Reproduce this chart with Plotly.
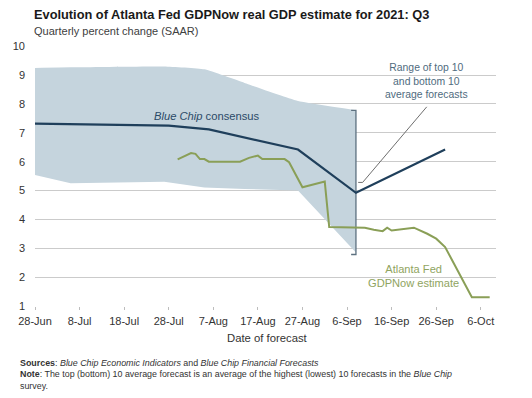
import pandas as pd
import plotly.graph_objects as go

# ---------------- data ----------------
band_dates = ["2021-06-28", "2021-07-06", "2021-07-27", "2021-08-05", "2021-08-14",
              "2021-08-22", "2021-08-26", "2021-09-08"]
band_upper = [9.25, 9.27, 9.30, 9.20, 8.73, 8.30, 8.10, 7.78]
band_lower = [5.54, 5.25, 5.30, 5.10, 5.05, 5.02, 5.00, 2.85]

bc_dates = ["2021-06-28", "2021-07-28", "2021-08-06", "2021-08-26", "2021-09-08", "2021-09-28"]
bc_values = [7.32, 7.25, 7.12, 6.42, 4.92, 6.42]

gdpnow_dates = ["2021-07-30", "2021-08-02", "2021-08-03", "2021-08-04", "2021-08-05",
                "2021-08-06", "2021-08-13", "2021-08-15", "2021-08-17", "2021-08-18",
                "2021-08-23", "2021-08-24", "2021-08-27", "2021-09-01", "2021-09-02",
                "2021-09-10", "2021-09-12", "2021-09-14", "2021-09-15", "2021-09-16",
                "2021-09-21", "2021-09-24", "2021-09-26", "2021-09-28", "2021-09-30",
                "2021-10-04", "2021-10-08"]
gdpnow_values = [6.08, 6.30, 6.27, 6.09, 6.09,
                 6.00, 6.00, 6.13, 6.21, 6.09,
                 6.09, 5.98, 5.11, 5.31, 3.73,
                 3.71, 3.64, 3.59, 3.71, 3.61,
                 3.71, 3.50, 3.33, 3.04, 2.46,
                 1.30, 1.30]

y_ticks = [1, 2, 3, 4, 5, 6, 7, 8, 9, 10]

# annotation pointer (from bracket to "Range" label)
pointer_x = ["2021-09-08 12:00", "2021-09-09 12:00", "2021-09-23 21:00"]
pointer_y = [5.28, 5.28, 7.90]

FONT = "Liberation Sans, Arial, sans-serif"
BAND = "#c5d4dd"
NAVY = "#1f3f5b"
GREEN = "#8a9f57"
GRID = "#cbcbcb"

fig = go.Figure()

# band
fig.add_trace(go.Scatter(x=band_dates, y=band_upper, mode="lines",
                         line=dict(color=BAND, width=0, shape="spline", smoothing=0.4),
                         hoverinfo="skip", showlegend=False))
fig.add_trace(go.Scatter(x=band_dates, y=band_lower, mode="lines", fill="tonexty",
                         fillcolor=BAND, line=dict(color=BAND, width=0),
                         hoverinfo="skip", showlegend=False))

# bracket at band end
end = pd.Timestamp(band_dates[-1])
tick = pd.Timedelta(hours=26)
fig.add_trace(go.Scatter(
    x=[end - tick, end, end, end - tick],
    y=[band_upper[-1], band_upper[-1], band_lower[-1] - 0.07, band_lower[-1] - 0.07],
    mode="lines", line=dict(color="#5d7180", width=1.3),
    hoverinfo="skip", showlegend=False))

# pointer line
fig.add_trace(go.Scatter(x=pointer_x, y=pointer_y, mode="lines",
                         line=dict(color="#6e6e6e", width=1),
                         hoverinfo="skip", showlegend=False))

# Blue Chip consensus
fig.add_trace(go.Scatter(x=bc_dates, y=bc_values, mode="lines",
                         line=dict(color=NAVY, width=2.2),
                         hoverinfo="skip", showlegend=False))

# GDPNow
fig.add_trace(go.Scatter(x=gdpnow_dates, y=gdpnow_values, mode="lines",
                         line=dict(color=GREEN, width=2),
                         hoverinfo="skip", showlegend=False))

L, R, T, B = 35, 36, 46, 92
W, H = 532, 398
PW, PH = W - L - R, H - T - B


def px(x):
    return (x - L) / PW


def py(y):
    return (H - B - y) / PH


annotations = [
    dict(text="<b>Evolution of Atlanta Fed GDPNow real GDP estimate for 2021: Q3</b>",
         x=px(32), y=py(15), xref="paper", yref="paper", xanchor="left", yanchor="middle",
         showarrow=False, font=dict(size=12.8, color="#1a1a1a", family=FONT)),
    dict(text="Quarterly percent change (SAAR)",
         x=px(32), y=py(31), xref="paper", yref="paper", xanchor="left", yanchor="middle",
         showarrow=False, font=dict(size=11, color="#404040", family=FONT)),
    dict(text="Date of forecast",
         x=px(267), y=py(338), xref="paper", yref="paper", xanchor="center", yanchor="middle",
         showarrow=False, font=dict(size=11.3, color="#333333", family=FONT)),
    dict(text="<b>Sources</b>: <i>Blue Chip Economic Indicators</i> and <i>Blue Chip Financial Forecasts</i>",
         x=px(18), y=py(362.5), xref="paper", yref="paper", xanchor="left", yanchor="middle",
         showarrow=False, font=dict(size=8.9, color="#333333", family=FONT)),
    dict(text="<b>Note</b>: The top (bottom) 10 average forecast is an average of the highest (lowest) 10 forecasts in the <i>Blue Chip</i>",
         x=px(18), y=py(374), xref="paper", yref="paper", xanchor="left", yanchor="middle",
         showarrow=False, font=dict(size=8.9, color="#333333", family=FONT)),
    dict(text="survey.",
         x=px(18), y=py(385.5), xref="paper", yref="paper", xanchor="left", yanchor="middle",
         showarrow=False, font=dict(size=8.9, color="#333333", family=FONT)),
    dict(text="<i>Blue Chip</i> consensus",
         x="2021-08-05 16:00", y=7.6, xref="x", yref="y", xanchor="center", yanchor="middle",
         showarrow=False, font=dict(size=11.2, color="#2b4a67", family=FONT)),
    dict(text="Range of top 10<br>and bottom 10<br>average forecasts",
         x="2021-09-23 21:00", y=8.78, xref="x", yref="y", xanchor="center", yanchor="middle",
         showarrow=False, align="center", font=dict(size=10.4, color="#4f6b7e", family=FONT)),
    dict(text="Atlanta Fed<br>GDPNow estimate",
         x="2021-09-21 00:00", y=2.05, xref="x", yref="y", xanchor="center", yanchor="middle",
         showarrow=False, align="center", font=dict(size=11.1, color="#8fa460", family=FONT)),
]

fig.update_layout(
    width=W, height=H,
    margin=dict(l=L, r=R, t=T, b=B),
    paper_bgcolor="white", plot_bgcolor="white",
    font=dict(family=FONT, size=11, color="#404040"),
    showlegend=False,
    annotations=annotations,
)

fig.update_xaxes(
    type="date",
    range=["2021-06-28", "2021-10-09 10:00"],
    tick0="2021-06-28", dtick=10 * 86400000,
    tickformat="%-d-%b",
    showgrid=False, zeroline=False,
    showline=False,
    ticks="outside", ticklen=3, tickcolor="#bdbdbd", tickwidth=1,
    ticklabelstandoff=2,
    tickfont=dict(size=11, color="#333333"),
)
fig.update_yaxes(
    range=[0.995, 10.01],
    tickvals=y_ticks,
    showgrid=True, gridcolor=GRID, gridwidth=1,
    zeroline=False, showline=False, ticks="",
    ticklabelstandoff=9,
    tickfont=dict(size=11, color="#333333"),
)

fig.write_html("out.html", config={"displayModeBar": False},
               post_script="document.body.style.margin='0';")
